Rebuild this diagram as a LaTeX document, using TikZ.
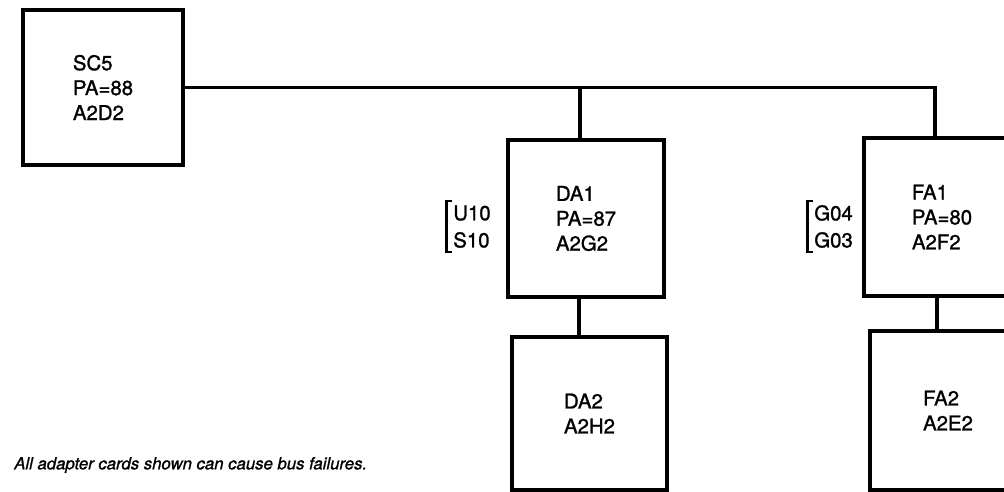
\documentclass[tikz,border=0pt]{standalone}
\usepackage{fontspec}
\setmainfont{TeX Gyre Heros}[FakeBold=1.2]
\usetikzlibrary{calc}
\tikzset{
  card/.style={
    draw,
    shape = rectangle,
    line width = 2.7pt,
    inner sep = 0pt,
    align = left,
    font = \fontsize{14.5pt}{17.7pt}\selectfont
  },
  bus/.style={
    line width = 2.7pt
  },
  pinlbl/.style={
    anchor = west,
    inner xsep = 0pt,
    inner ysep = 3pt,
    font = \fontsize{14.5pt}{17pt}\selectfont
  },
  brk/.style={
    line width = 1.7pt
  },
  note/.style={
    anchor = west,
    inner sep = 0pt,
    font = \itshape\fontsize{11.9pt}{13pt}\selectfont
  }
}

\begin{document}
\begin{tikzpicture}[x=0.025cm, y=-0.025cm]
  \useasboundingbox (0,0) rectangle (1004,492);
  \clip (0,0) rectangle (1004,492);

  % cards
  \node[card, minimum width=4cm, minimum height=3.875cm] (sc5) at (103,87.5) {SC5\\PA=88\\A2D2};
  \node[card, minimum width=3.9cm, minimum height=3.925cm] (da1) at (586,218.5) {DA1\\PA=87\\A2G2};
  \node[card, minimum width=3.875cm, minimum height=3.825cm] (da2) at (589.5,413.5) {DA2\\A2H2};
  \node[card, minimum width=3.9cm, minimum height=3.95cm] (fa1) at (942,217) {FA1\\PA=80\\A2F2};
  \node[card, minimum width=3.9cm, minimum height=3.975cm] (fa2) at (948,410.5) {FA2\\A2E2};

  % bus
  \draw[bus] (sc5.east) -| ([xshift=-5pt]fa1.north);
  \draw[bus] ([xshift=-4.25pt]da1.north) -- ([xshift=-4.25pt]da1.north |- sc5.east);
  \draw[bus] ([xshift=-5pt]da1.south) -- ([xshift=-5pt]da1.south |- da2.north);
  \draw[bus] ([xshift=-3.5pt]fa1.south) -- ([xshift=-3.5pt]fa1.south |- fa2.north);

  % pins
  \node[pinlbl] (u10) at (453,213) {U10};
  \node[pinlbl] (s10) at (453,240) {S10};
  \node[pinlbl] (g04) at (814,213) {G04};
  \node[pinlbl] (g03) at (814,240) {G03};
  \draw[brk] ([xshift=-0.5pt]u10.north west) -- ([xshift=-4.5pt]u10.north west)
    -- ([xshift=-4.5pt]s10.south west) -- ([xshift=-0.5pt]s10.south west);
  \draw[brk] ([xshift=-0.5pt]g04.north west) -- ([xshift=-4.5pt]g04.north west)
    -- ([xshift=-4.5pt]g03.south west) -- ([xshift=-0.5pt]g03.south west);

  \node[note] (note) at (14,465) {All adapter cards shown can cause bus failures.};
\end{tikzpicture}
\end{document}
